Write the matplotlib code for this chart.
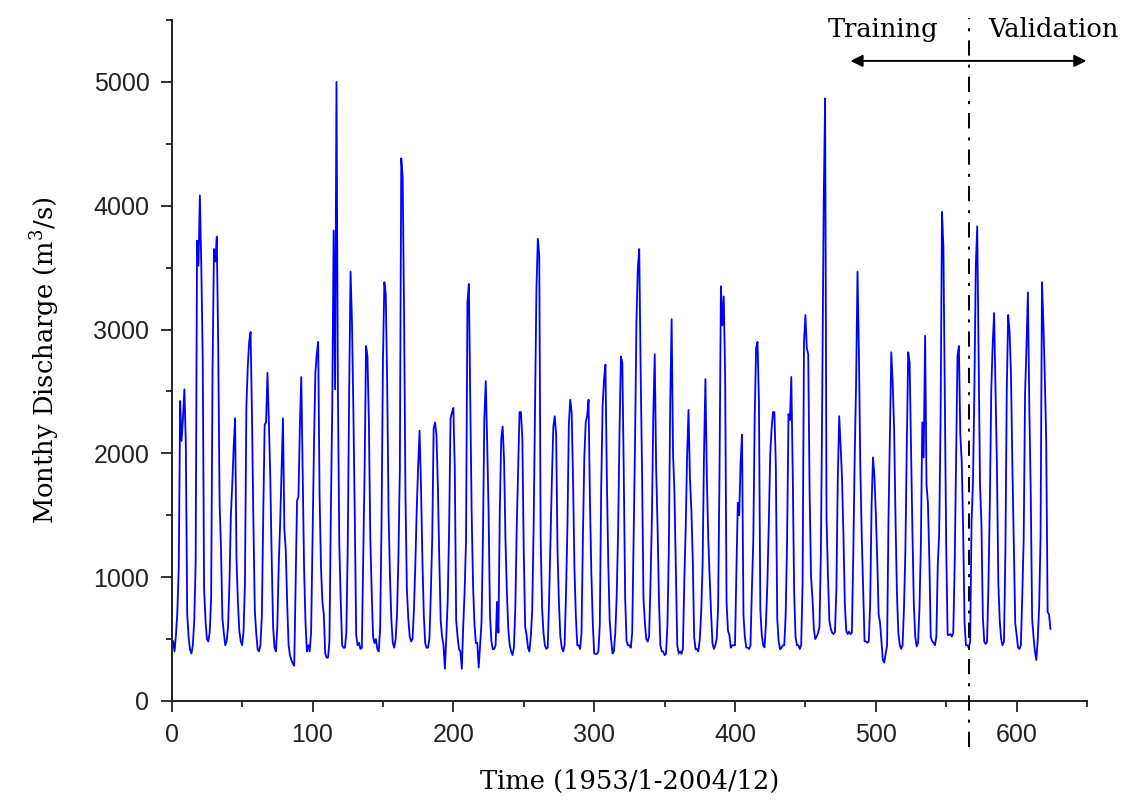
import matplotlib
matplotlib.use("Agg")
import matplotlib.pyplot as plt
from matplotlib.ticker import MultipleLocator
import numpy as np

# monthly discharge (m3/s), Jan..Dec, one row per year
flow_1953_1962 = [
    483, 400, 533, 717, 1083, 2423, 2100, 2283, 2517, 2083, 700, 517,
    417, 383, 450, 650, 1117, 3717, 3517, 4083, 3517, 2783, 900, 650,
    500, 480, 560, 833, 2683, 3650, 3550, 3750, 2883, 1600, 1233, 667,
    550, 450, 480, 600, 950, 1500, 1750, 2050, 2283, 1150, 800, 567,
    483, 450, 560, 950, 2367, 2700, 2900, 2980, 2300, 1450, 733, 550,
    417, 400, 450, 683, 1500, 2233, 2250, 2650, 2250, 1800, 1150, 600,
    430, 400, 600, 1100, 1433, 1850, 2283, 1383, 1217, 783, 450, 367,
    330, 300, 285, 967, 1617, 1650, 2217, 2617, 1867, 1067, 633, 400,
    450, 400, 560, 1333, 2050, 2650, 2800, 2900, 1667, 1083, 800, 700,
    383, 350, 350, 483, 1517, 2383, 3800, 2517, 5000, 2517, 1267, 817,
]
flow_1963_1972 = [
    450, 430, 430, 550, 1250, 2483, 3467, 3067, 2350, 1483, 533, 450,
    470, 420, 430, 1150, 1883, 2867, 2783, 2267, 1333, 883, 517, 467,
    500, 420, 400, 583, 1433, 2750, 3383, 3283, 2567, 1517, 1000, 650,
    470, 430, 500, 700, 1167, 1867, 4383, 4233, 3133, 1650, 900, 667,
    520, 480, 500, 733, 1100, 1550, 1900, 2183, 1750, 1150, 700, 467,
    430, 430, 500, 867, 1317, 2200, 2250, 2150, 1733, 1150, 650, 517,
    450, 260, 517, 817, 1400, 2283, 2330, 2367, 1883, 650, 517, 417,
    400, 260, 600, 883, 1300, 3217, 3367, 2450, 1517, 933, 617, 467,
    470, 270, 450, 633, 1317, 2283, 2583, 2100, 1533, 700, 483, 417,
    420, 450, 800, 550, 1550, 2117, 2217, 1950, 1300, 883, 583, 450,
]
flow_1973_1982 = [
    400, 370, 430, 750, 1400, 1867, 2333, 2333, 2117, 1200, 600, 533,
    430, 400, 520, 733, 1400, 2350, 3333, 3733, 3600, 1317, 750, 550,
    450, 420, 430, 817, 1300, 1800, 2217, 2300, 2150, 1200, 783, 517,
    430, 400, 450, 867, 1400, 2233, 2433, 2333, 1783, 1067, 683, 450,
    450, 420, 550, 1317, 1967, 2250, 2300, 2433, 1617, 1033, 633, 383,
    380, 380, 400, 617, 1733, 2383, 2600, 2717, 1800, 1117, 650, 500,
    383, 400, 550, 850, 1367, 2183, 2783, 2733, 1850, 833, 483, 450,
    450, 430, 550, 1300, 2067, 3050, 3500, 3650, 2667, 1850, 833, 633,
    500, 480, 520, 950, 1483, 2317, 2800, 1883, 1417, 817, 450, 400,
    400, 370, 380, 600, 1217, 2400, 3083, 2000, 1683, 1050, 450, 383,
]
flow_1983_1992 = [
    400, 380, 420, 967, 1400, 1983, 2350, 1800, 1550, 1150, 517, 417,
    420, 400, 500, 717, 1100, 2000, 2600, 1817, 1317, 1000, 717, 467,
    420, 450, 500, 750, 1833, 3350, 3033, 3267, 2633, 800, 567, 533,
    430, 450, 450, 450, 1050, 1600, 1500, 1933, 2150, 700, 517, 433,
    430, 420, 450, 900, 1300, 2300, 2850, 2900, 2417, 733, 533, 450,
    433, 633, 950, 1433, 1983, 2200, 2333, 2333, 1900, 667, 483, 417,
    430, 450, 450, 700, 1300, 2317, 2267, 2617, 1833, 883, 517, 450,
    450, 420, 450, 950, 2900, 3117, 2850, 2800, 1683, 1000, 833, 583,
    500, 520, 550, 600, 1200, 2517, 4033, 4867, 1483, 1017, 650, 583,
    550, 540, 560, 900, 1800, 2300, 2067, 1800, 1350, 783, 567, 540,
]
flow_1993_2002 = [
    560, 540, 550, 1183, 1967, 2567, 3467, 2817, 1883, 1333, 917, 483,
    480, 470, 480, 783, 1583, 1967, 1817, 1517, 1150, 700, 633, 483,
    330, 310, 380, 450, 1467, 2167, 2817, 2567, 2200, 1467, 867, 550,
    450, 420, 450, 750, 1217, 2067, 2817, 2733, 2033, 1367, 783, 517,
    440, 470, 750, 1267, 2250, 1967, 2950, 1750, 1600, 1150, 517, 483,
    470, 450, 520, 1100, 1350, 2283, 3950, 3667, 2450, 1233, 533, 533,
    540, 520, 550, 1100, 1933, 2783, 2867, 2150, 1933, 1400, 633, 450,
    450, 430, 480, 1450, 1767, 2517, 3517, 3833, 2800, 1750, 1433, 683,
    480, 460, 480, 950, 1617, 2517, 2883, 3133, 2517, 1900, 950, 650,
    500, 450, 480, 1183, 2517, 3117, 2983, 2633, 1883, 1233, 633, 533,
]
flow_2003_2004 = [
    430, 420, 450, 850, 1300, 2483, 2867, 3300, 2383, 1700, 667, 517,
    400, 330, 500, 767, 1333, 3383, 3050, 2617, 2100, 717, 700, 583,
]

split_month = 566  # last month used for training
x_ticks = [0, 100, 200, 300, 400, 500, 600]
y_ticks = [0, 1000, 2000, 3000, 4000, 5000]

flow = np.array(flow_1953_1962 + flow_1963_1972 + flow_1973_1982
                + flow_1983_1992 + flow_1993_2002 + flow_2003_2004)
months = np.arange(1, len(flow) + 1)

plt.rcParams['lines.scale_dashes'] = False
plt.rcParams['mathtext.fontset'] = 'dejavuserif'

serif = 'DejaVu Serif'
sans = 'Liberation Sans'

fig = plt.figure(figsize=(11.26, 8.02), dpi=100)
ax = fig.add_axes([0.1525, 0.126, 0.8129, 0.849])

ax.plot(months, flow, color='#0000ff', lw=1.3)

ax.set_xlim(0, 650)
ax.set_ylim(0, 5500)
ax.set_xticks(x_ticks)
ax.set_yticks(y_ticks)
ax.xaxis.set_minor_locator(MultipleLocator(50))
ax.yaxis.set_minor_locator(MultipleLocator(500))
ax.spines['top'].set_visible(False)
ax.spines['right'].set_visible(False)
for s in ['left', 'bottom']:
    ax.spines[s].set_linewidth(1.4)
    ax.spines[s].set_color('#222222')
ax.tick_params(which='major', direction='out', length=8, width=1.3,
               color='#222222', labelsize=18, pad=8)
ax.tick_params(which='minor', direction='out', length=4, width=1.3,
               color='#222222')
for lab in ax.get_xticklabels() + ax.get_yticklabels():
    lab.set_fontfamily(sans)
    lab.set_color('#222222')

ax.set_xlabel('Time (1953/1-2004/12)', fontfamily=serif, fontsize=18.5,
              labelpad=16)
ax.set_ylabel('Monthy Discharge (m$^{3}$/s)', fontfamily=serif,
              fontsize=18.5, labelpad=23)

# training / validation split
ax.plot([split_month, split_month], [-370, 5520], color='black', lw=1.4,
        ls=(0, (11, 6.5, 2.2, 6.5)), clip_on=False, zorder=3)
for x_end in (482, 649.5):
    ax.annotate('', xy=(x_end, 5170), xytext=(split_month, 5170),
                arrowprops=dict(arrowstyle='-|>', color='black', lw=1.4,
                                mutation_scale=18, shrinkA=0, shrinkB=0),
                annotation_clip=False)
ax.text(505, 5420, 'Training', fontfamily=serif, fontsize=18.5,
        ha='center', va='center')
ax.text(626, 5420, 'Validation', fontfamily=serif, fontsize=18.5,
        ha='center', va='center')

fig.savefig('out.png', dpi=100)
